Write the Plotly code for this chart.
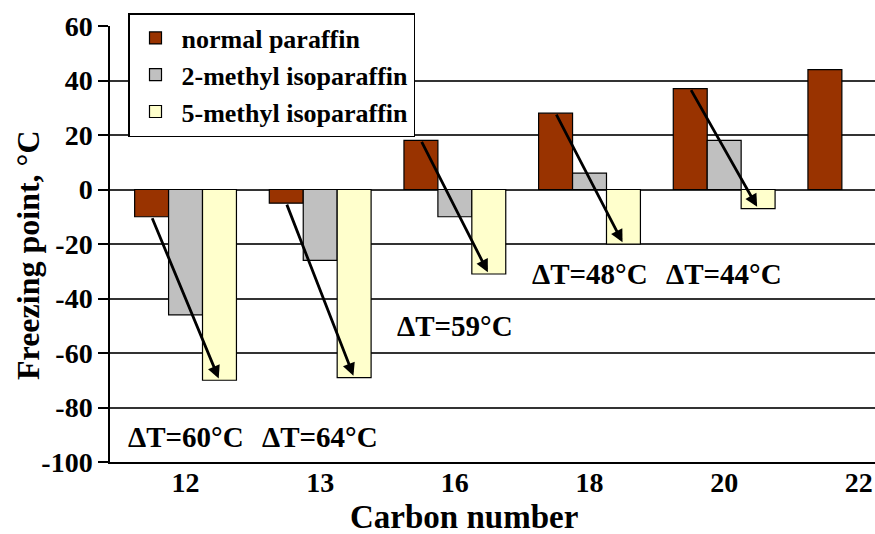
import plotly.graph_objects as go

carbon_numbers = ["12", "13", "16", "18", "20", "22"]
normal_paraffin = [-10, -5, 18, 28, 37, 44]
methyl2_isoparaffin = [-46, -26, -10, 6, 18, None]
methyl5_isoparaffin = [-70, -69, -31, -20, -7, None]
delta_labels = ["ΔT=60°C", "ΔT=64°C", "ΔT=59°C", "ΔT=48°C", "ΔT=44°C"]
delta_label_y = [-91, -91, -50, -31, -31]
y_ticks = [60, 40, 20, 0, -20, -40, -60, -80, -100]
y_tick_text = ["60", "40", "20", "0", "-20", "-40", "-60", "-80", "-100"]

FONT = "'Liberation Serif', 'Times New Roman', Times, serif"
idx = list(range(len(carbon_numbers)))
bargap = 0.244
bar_w = (1 - bargap) / 3

fig = go.Figure()
series = [
    ("normal paraffin", normal_paraffin, "#993300"),
    ("2-methyl isoparaffin", methyl2_isoparaffin, "#C0C0C0"),
    ("5-methyl isoparaffin", methyl5_isoparaffin, "#FFFFCC"),
]
for name, vals, col in series:
    fig.add_trace(go.Bar(
        x=idx, y=vals, name="<b>" + name + "</b>",
        marker=dict(color=col, line=dict(color="black", width=1.2)),
    ))

annotations = []
for i in range(len(delta_labels)):
    annotations.append(dict(
        x=i + bar_w, y=methyl5_isoparaffin[i],
        ax=i - bar_w, ay=normal_paraffin[i],
        xref="x", yref="y", axref="x", ayref="y",
        text="", showarrow=True, arrowhead=2, arrowsize=0.9,
        arrowwidth=2.8, arrowcolor="black",
        standoff=2, startstandoff=0,
    ))
    annotations.append(dict(
        x=i, y=delta_label_y[i], xref="x", yref="y",
        text="<b>" + delta_labels[i] + "</b>", showarrow=False,
        font=dict(family=FONT, size=29, color="black"),
    ))

annotations.append(dict(
    x=(464 - 110) / 765, y=-(517 - 462) / 436, xref="paper", yref="paper",
    text="<b>Carbon number</b>", showarrow=False,
    xanchor="center", yanchor="middle",
    font=dict(family=FONT, size=33, color="black"),
))
annotations.append(dict(
    x=-(110 - 28) / 765, y=(462 - 255) / 436, xref="paper", yref="paper",
    text="<b>Freezing point, °C</b>", textangle=-90, showarrow=False,
    xanchor="center", yanchor="middle",
    font=dict(family=FONT, size=32, color="black"),
))

fig.update_layout(
    width=875, height=534,
    margin=dict(l=110, r=0, t=26, b=72),
    paper_bgcolor="white", plot_bgcolor="white",
    barmode="group", bargap=bargap, bargroupgap=0,
    showlegend=True,
    legend=dict(
        x=(128 - 110) / 765, y=(462 - 13) / 436,
        xanchor="left", yanchor="top",
        bgcolor="white", bordercolor="black", borderwidth=1.5,
        font=dict(family=FONT, size=26, color="black"),
        tracegroupgap=0, itemwidth=42, entrywidth=318,
    ),
    xaxis=dict(
        tickmode="array", tickvals=idx,
        ticktext=["<b>" + t + "</b>" for t in carbon_numbers],
        range=[-0.561, 5.12],
        showgrid=False, zeroline=False,
        showline=True, linecolor="black", linewidth=1.5,
        ticks="", ticklabelstandoff=-5,
        tickfont=dict(family=FONT, size=28, color="black"),
    ),
    yaxis=dict(
        range=[-100, 60], tickmode="array", tickvals=y_ticks,
        ticktext=["<b>" + t + "</b>" for t in y_tick_text],
        showgrid=True, gridcolor="#333333", gridwidth=1.5,
        zeroline=False,
        showline=True, linecolor="black", linewidth=1.5,
        ticks="outside", ticklen=10, tickcolor="black", tickwidth=1.5,
        tickfont=dict(family=FONT, size=28, color="black"),
    ),
    annotations=annotations,
)

fig.write_html("out.html")
